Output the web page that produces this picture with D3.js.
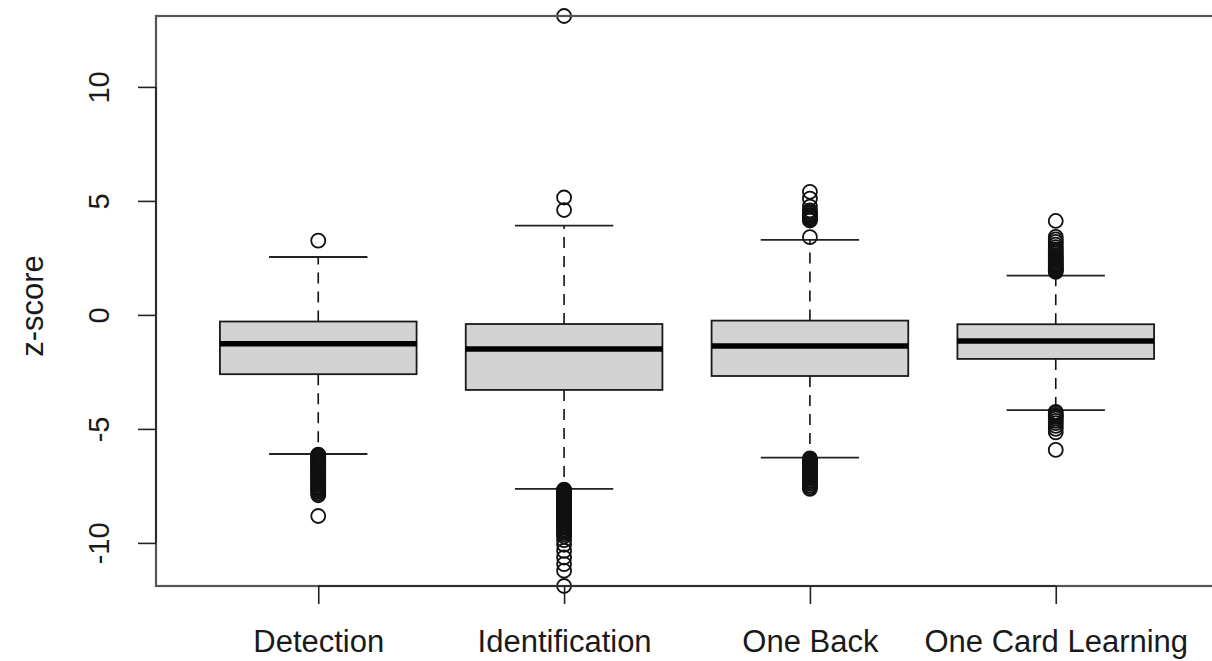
<!DOCTYPE html>
<html>
<head>
<meta charset="utf-8">
<script src="https://cdn.jsdelivr.net/npm/d3@7/dist/d3.min.js"></script>
<style>
  html, body { margin: 0; padding: 0; background: #fff; }
  svg { display: block; }
  text { font-family: "Liberation Sans", Arial, Helvetica, sans-serif; fill: #1a1a1a; }
</style>
</head>
<body>
<svg id="chart" width="1212" height="661"></svg>
<script>
// Task categories
const categories = ["Detection", "Identification", "One Back", "One Card Learning"];

// Five-number summaries per task (z-scores)
const whiskerLow  = [-6.10, -7.63, -6.26, -4.18];
const q1          = [-2.60, -3.29, -2.68, -1.93];
const median      = [-1.27, -1.50, -1.36, -1.14];
const q3          = [-0.29, -0.40, -0.25, -0.41];
const whiskerHigh = [ 2.54,  3.92,  3.29,  1.72];

// Points beyond the whiskers
const outliersDetection = [
  3.26,
  -6.13, -6.17, -6.22, -6.26, -6.31, -6.35, -6.40, -6.44, -6.49, -6.53,
  -6.58, -6.63, -6.67, -6.72, -6.77, -6.81, -6.86, -6.91, -6.96, -7.01,
  -7.06, -7.11, -7.16, -7.21, -7.26, -7.31, -7.37, -7.42, -7.47, -7.53,
  -7.58, -7.64, -7.70, -7.76, -7.83, -7.91, -8.82
];
const outliersIdentification = [
  13.11, 5.15, 4.60,
  -7.66, -7.70, -7.75, -7.80, -7.85, -7.90, -7.95, -8.00, -8.05, -8.10,
  -8.15, -8.20, -8.26, -8.31, -8.36, -8.42, -8.47, -8.53, -8.58, -8.64,
  -8.69, -8.75, -8.80, -8.86, -8.92, -8.98, -9.04, -9.10, -9.16, -9.22,
  -9.28, -9.34, -9.41, -9.48, -9.55, -9.63, -9.72,
  -9.88, -10.08, -10.35, -10.64, -10.93, -11.22, -11.89
];
const outliersOneBack = [
  3.41, 4.14, 4.19, 4.24, 4.29, 4.34, 4.39, 4.45, 4.51, 4.58, 4.75, 5.10, 5.40,
  -6.29, -6.33, -6.38, -6.42, -6.47, -6.51, -6.56, -6.61, -6.66, -6.71,
  -6.76, -6.81, -6.86, -6.91, -6.96, -7.02, -7.08, -7.14, -7.20, -7.27,
  -7.34, -7.41, -7.49, -7.56, -7.63
];
const outliersOneCard = [
  1.89, 1.94, 1.99, 2.04, 2.09, 2.14, 2.19, 2.24, 2.30, 2.36, 2.42, 2.48,
  2.55, 2.62, 2.70, 2.78, 2.87, 2.97, 3.08, 3.20, 3.31, 3.42, 4.12,
  -4.25, -4.32, -4.40, -4.47, -4.55, -4.65, -4.75, -4.87, -5.00, -5.15, -5.92
];
const outliers = [outliersDetection, outliersIdentification, outliersOneBack, outliersOneCard];

const yTicks = [-10, -5, 0, 5, 10];
const yTitle = "z-score";

// Plot region (right edge runs past the canvas)
const plot = { left: 156, right: 1218, top: 16, bottom: 586 };

const svg = d3.select("#chart");

const allValues = d3.merge([whiskerLow, whiskerHigh, d3.merge(outliers)]);
const y = d3.scaleLinear()
  .domain(d3.extent(allValues))
  .range([plot.bottom, plot.top]);

const x = d3.scalePoint()
  .domain(categories)
  .range([plot.left, plot.right])
  .padding(0.66);

const step = x.step();
const boxW = step * 0.8;
const capW = step * 0.4;

const data = categories.map((c, i) => ({
  name: c, lo: whiskerLow[i], q1: q1[i], med: median[i], q3: q3[i], hi: whiskerHigh[i], out: outliers[i]
}));

const g = svg.append("g");

const groups = g.selectAll("g.box").data(data).join("g").attr("class", "box");

// dashed whiskers
groups.append("line")
  .attr("x1", d => x(d.name)).attr("x2", d => x(d.name))
  .attr("y1", d => y(d.q3)).attr("y2", d => y(d.hi))
  .attr("stroke", "#111").attr("stroke-width", 1.6).attr("stroke-dasharray", "11,8");
groups.append("line")
  .attr("x1", d => x(d.name)).attr("x2", d => x(d.name))
  .attr("y1", d => y(d.q1)).attr("y2", d => y(d.lo))
  .attr("stroke", "#111").attr("stroke-width", 1.6).attr("stroke-dasharray", "11,8");

// staples
["lo", "hi"].forEach(k => {
  groups.append("line")
    .attr("x1", d => x(d.name) - capW / 2).attr("x2", d => x(d.name) + capW / 2)
    .attr("y1", d => y(d[k])).attr("y2", d => y(d[k]))
    .attr("stroke", "#222").attr("stroke-width", 1.8);
});

// boxes
groups.append("rect")
  .attr("x", d => x(d.name) - boxW / 2)
  .attr("width", boxW)
  .attr("y", d => y(d.q3))
  .attr("height", d => y(d.q1) - y(d.q3))
  .attr("fill", "#d3d3d3")
  .attr("stroke", "#1a1a1a").attr("stroke-width", 1.8);

// medians
groups.append("line")
  .attr("x1", d => x(d.name) - boxW / 2).attr("x2", d => x(d.name) + boxW / 2)
  .attr("y1", d => y(d.med)).attr("y2", d => y(d.med))
  .attr("stroke", "#000").attr("stroke-width", 5.5);

// outlier circles
groups.each(function (d) {
  d3.select(this).selectAll("circle").data(d.out).join("circle")
    .attr("cx", x(d.name))
    .attr("cy", v => y(v))
    .attr("r", 7)
    .attr("fill", "none")
    .attr("stroke", "#111")
    .attr("stroke-width", 1.8);
});

// frame
svg.append("rect")
  .attr("x", plot.left).attr("y", plot.top)
  .attr("width", plot.right - plot.left).attr("height", plot.bottom - plot.top)
  .attr("fill", "none").attr("stroke", "#555").attr("stroke-width", 2.2);

// y axis (plain hyphen for negative labels)
const yAxis = svg.append("g").attr("transform", `translate(${plot.left},0)`)
  .call(d3.axisLeft(y).tickValues(yTicks).tickSize(18).tickFormat(d => String(d)));
yAxis.select(".domain")
  .attr("d", `M0,${y(yTicks[0])}V${y(yTicks[yTicks.length - 1])}`)
  .attr("stroke", "#222").attr("stroke-width", 1.6);
yAxis.selectAll(".tick line").attr("stroke", "#222").attr("stroke-width", 1.6);
yAxis.selectAll(".tick text")
  .attr("x", null).attr("dy", null)
  .attr("transform", "translate(-47,0) rotate(-90)")
  .attr("text-anchor", "middle")
  .style("font-size", "29px")
  .style("font-family", '"Liberation Sans", Arial, sans-serif')
  .attr("fill", "#1a1a1a");

// x axis
const xAxis = svg.append("g").attr("transform", `translate(0,${plot.bottom})`)
  .call(d3.axisBottom(x).tickSize(18));
xAxis.select(".domain")
  .attr("d", `M${x(categories[0])},0H${x(categories[categories.length - 1])}`)
  .attr("stroke", "#222").attr("stroke-width", 1.6);
xAxis.selectAll(".tick line").attr("stroke", "#222").attr("stroke-width", 1.6);
xAxis.selectAll(".tick text")
  .attr("y", 66).attr("dy", null)
  .style("font-size", "31px")
  .style("font-family", '"Liberation Sans", Arial, sans-serif')
  .attr("fill", "#1a1a1a");

// y title
svg.append("text")
  .attr("transform", `translate(43,${(plot.top + plot.bottom) / 2 + 5}) rotate(-90)`)
  .attr("text-anchor", "middle")
  .style("font-size", "31px")
  .text(yTitle);
</script>
</body>
</html>
